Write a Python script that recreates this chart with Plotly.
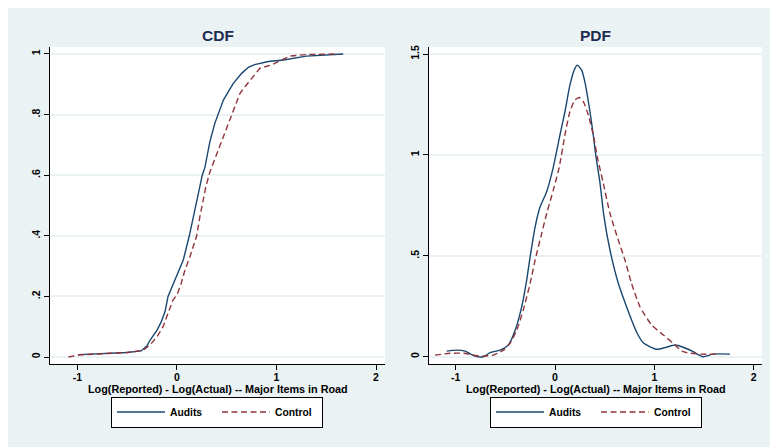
import plotly.graph_objects as go

# The page places the figure 8px from the top-left corner of the window.
OFF = 8
W, H = 778 - OFF, 447 - OFF

# ---------------- data ----------------
cdf_audits_x = [-0.99, -0.5, -0.36, -0.30, -0.27, -0.20, -0.16, -0.12, -0.09, -0.025, 0.063, 0.124, 0.164,
                0.214, 0.254, 0.28, 0.33, 0.38, 0.425, 0.466, 0.516, 0.566, 0.65, 0.717, 0.78, 0.918,
                1.07, 1.30, 1.67]
cdf_audits_y = [0.008, 0.015, 0.02, 0.038, 0.056, 0.089, 0.115, 0.15, 0.2, 0.25, 0.32, 0.40, 0.463,
                0.54, 0.60, 0.625, 0.71, 0.771, 0.815, 0.848, 0.876, 0.903, 0.936, 0.956, 0.965, 0.975,
                0.98, 0.993, 1.0]

cdf_control_x = [-1.09, -0.975, -0.5, -0.34, -0.27, -0.2, -0.14, -0.09, -0.04, 0.0, 0.04, 0.08, 0.13,
                 0.198, 0.23, 0.29, 0.33, 0.415, 0.53, 0.633, 0.683, 0.75, 0.834, 0.95, 1.035, 1.135,
                 1.30, 1.60]
cdf_control_y = [0.0, 0.007, 0.015, 0.022, 0.04, 0.067, 0.1, 0.144, 0.188, 0.205, 0.24, 0.287, 0.331,
                 0.40, 0.463, 0.562, 0.61, 0.683, 0.782, 0.87, 0.892, 0.92, 0.953, 0.964, 0.978, 0.993,
                 0.998, 1.0]

pdf_audits_x = [-1.09, -0.99, -0.905, -0.805, -0.72, -0.654, -0.553, -0.47, -0.40, -0.335, -0.285, -0.25,
                -0.2, -0.15, -0.084, -0.017, 0.05, 0.1, 0.15, 0.2, 0.225, 0.268, 0.30, 0.352, 0.385,
                0.41, 0.453, 0.493, 0.553, 0.637, 0.72, 0.82, 0.888, 1.02, 1.12, 1.21, 1.29, 1.39, 1.49,
                1.59, 1.76]
pdf_audits_y = [0.028, 0.033, 0.028, 0.003, 0.0, 0.02, 0.033, 0.058, 0.132, 0.248, 0.38, 0.496,
                0.644, 0.743, 0.818, 0.94, 1.099, 1.214, 1.346, 1.429, 1.445, 1.42, 1.363, 1.214, 1.099,
                1.0, 0.86, 0.694, 0.529, 0.364, 0.248, 0.124, 0.069, 0.037, 0.047, 0.058, 0.047, 0.025, 0.0,
                0.013, 0.013]

pdf_control_x = [-1.207, -1.056, -0.92, -0.755, -0.62, -0.52, -0.453, -0.385, -0.32, -0.25, -0.2, -0.134,
                 -0.083, -0.017, 0.043, 0.10, 0.15, 0.2, 0.245, 0.285, 0.335, 0.385, 0.43, 0.486, 0.553,
                 0.637, 0.704, 0.77, 0.855, 0.973, 1.09, 1.19, 1.29, 1.46, 1.63]
pdf_control_y = [0.008, 0.017, 0.017, 0.003, 0.008, 0.033, 0.066, 0.132, 0.231, 0.364, 0.479, 0.611,
                 0.711, 0.826, 0.941, 1.099, 1.214, 1.272, 1.285, 1.264, 1.198, 1.099, 0.98, 0.86, 0.711,
                 0.578, 0.479, 0.364, 0.248, 0.157, 0.108, 0.066, 0.025, 0.013, 0.013]

x_tickvals = [-1, 0, 1, 2]
x_ticktext = ["-1", "0", "1", "2"]
cdf_tickvals = [0, 0.2, 0.4, 0.6, 0.8, 1]
cdf_ticktext = ["0", ".2", ".4", ".6", ".8", "1"]
pdf_tickvals = [0, 0.5, 1, 1.5]
pdf_ticktext = ["0", ".5", "1", "1.5"]

titles = ["CDF", "PDF"]
x_title = "Log(Reported) - Log(Actual) -- Major Items in Road"
series_names = ["Audits", "Control"]

# ---------------- style ----------------
NAVY = "#1A476F"
MAROON = "#90353B"
BG = "#EAF2F3"
FONT = "Liberation Sans, Arial, sans-serif"
DASH = "6px,3.5px"


def px_x(p):  # window pixel -> paper fraction
    return (p - OFF) / W


def px_y(p):
    return (H - (p - OFF)) / H


fig = go.Figure()

fig.add_trace(go.Scatter(x=cdf_audits_x, y=cdf_audits_y, mode="lines", name=series_names[0],
                         line=dict(color=NAVY, width=1.4), xaxis="x", yaxis="y", legend="legend"))
fig.add_trace(go.Scatter(x=cdf_control_x, y=cdf_control_y, mode="lines", name=series_names[1],
                         line=dict(color=MAROON, width=1.4, dash=DASH), xaxis="x", yaxis="y", legend="legend"))
fig.add_trace(go.Scatter(x=pdf_audits_x, y=pdf_audits_y, mode="lines", name=series_names[0],
                         line=dict(color=NAVY, width=1.4, shape="spline", smoothing=0.6),
                         xaxis="x2", yaxis="y2", legend="legend2"))
fig.add_trace(go.Scatter(x=pdf_control_x, y=pdf_control_y, mode="lines", name=series_names[1],
                         line=dict(color=MAROON, width=1.4, dash=DASH, shape="spline", smoothing=0.6),
                         xaxis="x2", yaxis="y2", legend="legend2"))

tickfont = dict(family=FONT, size=10.5, color="black", weight="bold")


def xaxis(domain, rng, anchor):
    return dict(domain=domain, range=rng, anchor=anchor, tickmode="array", tickvals=x_tickvals,
                ticktext=x_ticktext, showgrid=False, zeroline=False, showline=True, linecolor="black",
                linewidth=1.2, ticks="outside", ticklen=5, tickwidth=1.2, tickcolor="black",
                tickfont=tickfont, ticklabelstandoff=-2, fixedrange=True)


def yaxis(domain, rng, anchor, tv, tt):
    return dict(domain=domain, range=rng, anchor=anchor, tickmode="array", tickvals=tv, ticktext=tt,
                showgrid=True, gridcolor=BG, gridwidth=1.6, zeroline=False, showline=True,
                linecolor="black", linewidth=1.2, ticks="outside", ticklen=5, tickwidth=1.2,
                tickcolor="black", tickangle=-90, tickfont=tickfont, fixedrange=True)


ydom = [px_y(364), px_y(47)]
legend_common = dict(orientation="h", bgcolor="white", bordercolor="black", borderwidth=1,
                     font=dict(family=FONT, size=10.3, color="black", weight="bold"),
                     xanchor="center", yanchor="middle", y=px_y(412), itemwidth=48,
                     entrywidth=42, tracegroupgap=0)

fig.update_layout(
    width=W, height=H,
    margin=dict(l=0, r=0, t=0, b=0, autoexpand=False),
    paper_bgcolor=BG, plot_bgcolor="white",
    font=dict(family=FONT, color="black"),
    xaxis=xaxis([px_x(50), px_x(385)], [-1.276, 2.09], "y"),
    yaxis=yaxis(ydom, [-0.0231, 1.023], "x", cdf_tickvals, cdf_ticktext),
    xaxis2=xaxis([px_x(429), px_x(762)], [-1.268, 2.083], "y2"),
    yaxis2=yaxis(ydom, [-0.036, 1.535], "x2", pdf_tickvals, pdf_ticktext),
    legend=dict(x=px_x(217), **legend_common),
    legend2=dict(x=px_x(596), **legend_common),
    annotations=[
        dict(text=titles[0], x=px_x(217.5), y=px_y(35), xref="paper", yref="paper",
             xanchor="center", yanchor="middle", showarrow=False,
             font=dict(family=FONT, size=15.5, color="#1E2D4F", weight="bold")),
        dict(text=titles[1], x=px_x(595.5), y=px_y(35), xref="paper", yref="paper",
             xanchor="center", yanchor="middle", showarrow=False,
             font=dict(family=FONT, size=15.5, color="#1E2D4F", weight="bold")),
        dict(text=x_title, x=px_x(217.5), y=px_y(389), xref="paper", yref="paper",
             xanchor="center", yanchor="middle", showarrow=False,
             font=dict(family=FONT, size=10.8, color="black", weight="bold")),
        dict(text=x_title, x=px_x(595.5), y=px_y(389), xref="paper", yref="paper",
             xanchor="center", yanchor="middle", showarrow=False,
             font=dict(family=FONT, size=10.8, color="black", weight="bold")),
    ],
    showlegend=True,
)

fig.write_html("out.html")
